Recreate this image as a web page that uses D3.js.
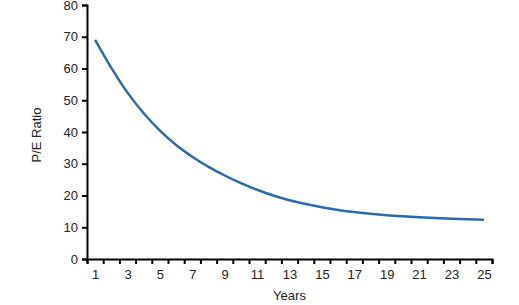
<!DOCTYPE html>
<html>
<head>
<meta charset="utf-8">
<script src="https://cdn.jsdelivr.net/npm/d3@7"></script>
<style>
  body { margin: 0; background: #fff; }
  svg text { font-family: "Liberation Sans", Arial, sans-serif; fill: #222; }
</style>
</head>
<body>
<svg width="519" height="305"></svg>
<script>
// values
var years = d3.range(1, 26);
var peRatio = [69, 60.2, 52.4, 45.9, 40.4, 35.9, 32.2, 29.0, 26.3, 23.9,
               21.8, 20.0, 18.5, 17.3, 16.3, 15.45, 14.8, 14.25, 13.8, 13.45,
               13.15, 12.9, 12.7, 12.53, 12.4];
var yTicks = [0, 10, 20, 30, 40, 50, 60, 70, 80];
var xLabels = [1, 3, 5, 7, 9, 11, 13, 15, 17, 19, 21, 23, 25];

var svg = d3.select("svg");
var plotL = 87, plotR = 492, plotT = 5, plotB = 259;

var x = d3.scaleLinear().domain([0.5, 25.5]).range([plotL, plotR]);
var y = d3.scaleLinear().domain([0, 80]).range([plotB, plotT]);

// y axis
var gy = svg.append("g")
	.attr("transform", "translate(" + plotL + ",0)")
	.call(d3.axisLeft(y).tickValues(yTicks).tickSize(5).tickPadding(4));
gy.select(".domain").attr("stroke", "#000").attr("stroke-width", 2);
gy.selectAll(".tick line").attr("stroke", "#000").attr("stroke-width", 2);
gy.selectAll("text").style("font-size", "13px");

// x axis: tick marks on category edges, labels on odd years
var edges = d3.range(0.5, 26, 1);
var gx = svg.append("g")
	.attr("transform", "translate(0," + plotB + ")")
	.call(d3.axisBottom(x).tickValues(edges).tickSize(5).tickFormat(""));
gx.select(".domain").attr("stroke", "#000").attr("stroke-width", 2);
gx.selectAll(".tick line").attr("stroke", "#000").attr("stroke-width", 2);

var gl = svg.append("g")
	.attr("transform", "translate(0," + plotB + ")")
	.call(d3.axisBottom(x).tickValues(xLabels).tickSize(0).tickPadding(11));
gl.select(".domain").remove();
gl.selectAll("text").style("font-size", "13px");

// line
var line = d3.line()
	.x(function(d, i) { return x(years[i]); })
	.y(function(d) { return y(d); })
	.curve(d3.curveMonotoneX);

svg.append("path")
	.datum(peRatio)
	.attr("d", line)
	.attr("fill", "none")
	.attr("stroke", "#2a6aad")
	.attr("stroke-width", 2.5);

// axis titles
svg.append("text")
	.attr("x", (plotL + plotR) / 2)
	.attr("y", 300)
	.attr("text-anchor", "middle")
	.style("font-size", "13px")
	.text("Years");

svg.append("text")
	.attr("transform", "translate(41," + ((plotT + plotB) / 2 + 3) + ") rotate(-90)")
	.attr("text-anchor", "middle")
	.style("font-size", "13px")
	.text("P/E Ratio");
</script>
</body>
</html>
